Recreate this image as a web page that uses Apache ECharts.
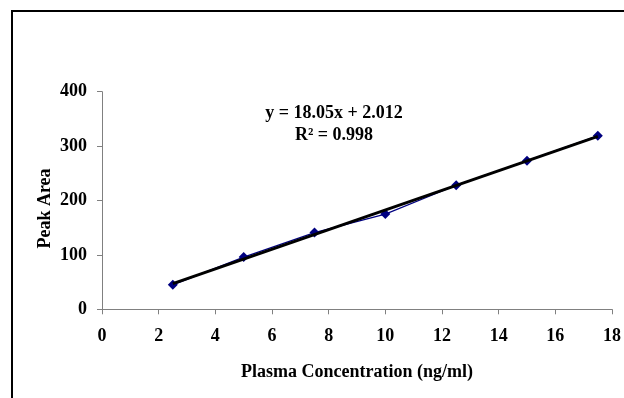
<!DOCTYPE html>
<html>
<head>
<meta charset="utf-8">
<script src="https://cdn.jsdelivr.net/npm/echarts@6/dist/echarts.min.js"></script>
<style>html,body{margin:0;padding:0;background:#fff;}#c{width:624px;height:398px;}</style>
</head>
<body>
<div id="c"></div>
<script>
// Data
var concentration = [2.5, 5, 7.5, 10, 12.5, 15, 17.5];
var peakArea = [45, 96, 141, 175, 228, 273, 319];
// Linear trendline endpoints (y = 18.05x + 2.012)
var trendX = [2.5, 17.5];
var trendY = [47.1, 317.9];
var xTicks = { min: 0, max: 18, interval: 2 };
var yTicks = { min: 0, max: 400, interval: 100 };
var equationText = 'y = 18.05x + 2.012';
var r2Text = 'R\u00B2 = 0.998';
var xTitle = 'Plasma Concentration (ng/ml)';
var yTitle = 'Peak Area';

var font = "'Liberation Serif', 'Times New Roman', serif";
var chart = echarts.init(document.getElementById('c'), null, { renderer: 'canvas' });

function pairs(xs, ys) { return xs.map(function (x, i) { return [x, ys[i]]; }); }

var axisCommon = {
  type: 'value',
  splitLine: { show: false },
  axisLine: { show: true, onZero: false, lineStyle: { color: '#808080', width: 1 } },
  axisTick: { show: true, inside: false, length: 5, lineStyle: { color: '#808080' } },
  axisLabel: { color: '#000', fontFamily: font, fontWeight: 'bold', fontSize: 18 }
};

chart.setOption({
  animation: false,
  backgroundColor: '#fff',
  grid: { left: 102, right: 11.5, top: 91.7, bottom: 88.7 },
  xAxis: echarts.util.merge({
    min: xTicks.min, max: xTicks.max, interval: xTicks.interval,
    axisLabel: { margin: 18 }
  }, axisCommon, false),
  yAxis: echarts.util.merge({
    min: yTicks.min, max: yTicks.max, interval: yTicks.interval,
    axisLabel: { margin: 15 }
  }, axisCommon, false),
  series: [
    {
      type: 'line',
      data: pairs(concentration, peakArea),
      symbol: 'diamond',
      symbolSize: 10,
      itemStyle: { color: '#000080' },
      lineStyle: { color: '#000080', width: 1.2 },
      z: 2
    },
    {
      type: 'line',
      data: pairs(trendX, trendY),
      showSymbol: false,
      symbol: 'none',
      lineStyle: { color: '#000', width: 3 },
      z: 3
    }
  ],
  graphic: [
    {
      type: 'rect',
      shape: { x: 12, y: 11, width: 700, height: 500 },
      style: { fill: 'none', stroke: '#000', lineWidth: 2 },
      silent: true
    },
    {
      type: 'text', x: 334, y: 113,
      style: { text: equationText, font: 'bold 18px ' + font, fill: '#000', textAlign: 'center', textVerticalAlign: 'middle' }
    },
    {
      type: 'text', x: 334, y: 135,
      style: { text: r2Text, font: 'bold 18px ' + font, fill: '#000', textAlign: 'center', textVerticalAlign: 'middle' }
    },
    {
      type: 'text', x: 357, y: 372,
      style: { text: xTitle, font: 'bold 18px ' + font, fill: '#000', textAlign: 'center', textVerticalAlign: 'middle' }
    },
    {
      type: 'text', x: 45, y: 208.5, rotation: Math.PI / 2,
      style: { text: yTitle, font: 'bold 18px ' + font, fill: '#000', textAlign: 'center', textVerticalAlign: 'middle' }
    }
  ]
});
</script>
</body>
</html>
